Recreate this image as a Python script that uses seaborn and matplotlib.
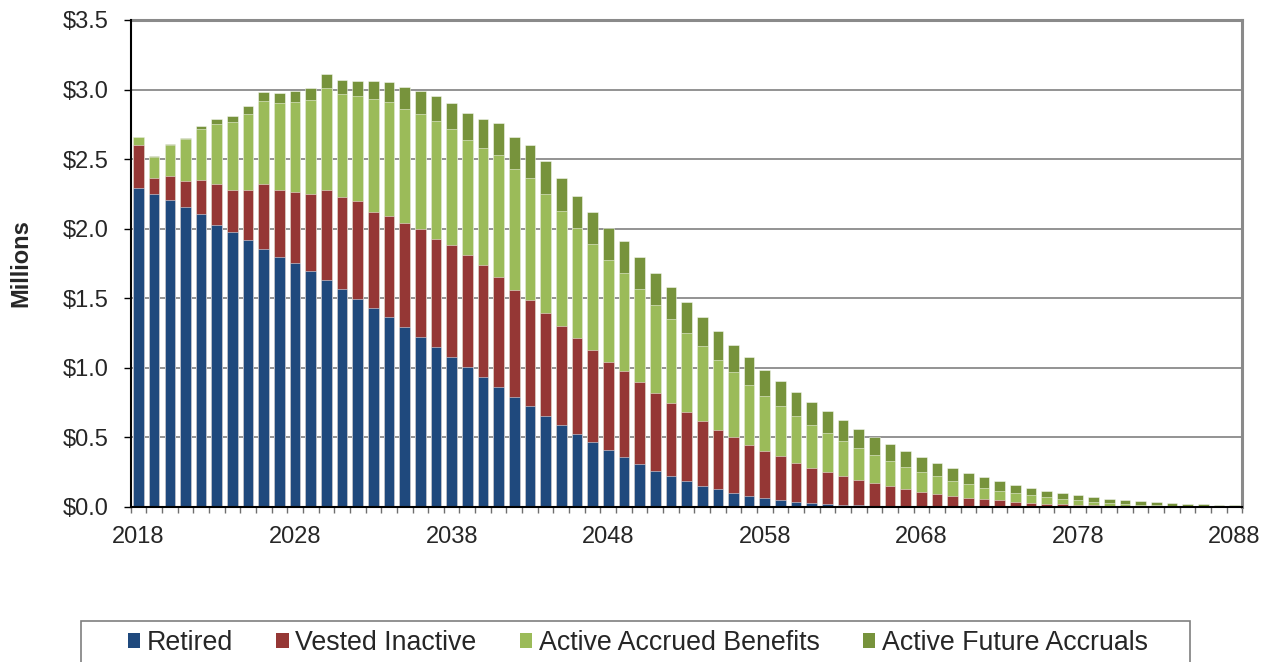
import numpy as np
import pandas as pd
import matplotlib
matplotlib.use("Agg")
import matplotlib.pyplot as plt
from matplotlib.patches import Patch, Rectangle
from matplotlib.ticker import FuncFormatter, FixedLocator
import seaborn as sns

# Projected benefit payments by member status, in $ millions
years = list(range(2018, 2089))

retired = [
    2.293, 2.247, 2.209, 2.158, 2.103, 2.029, 1.974, 1.916, 1.856, 1.796,
    1.751, 1.693, 1.633, 1.568, 1.496, 1.430, 1.362, 1.290, 1.223, 1.151,
    1.079, 1.007, 0.935, 0.863, 0.791, 0.722, 0.655, 0.590, 0.525, 0.465,
    0.410, 0.356, 0.305, 0.260, 0.219, 0.183, 0.151, 0.125, 0.099, 0.079,
    0.060, 0.046, 0.036, 0.024, 0.017, 0.012, 0.010, 0.007, 0.005, 0.003,
    0.002, 0.001, 0.001, 0.0, 0.0, 0.0, 0.0, 0.0, 0.0, 0.0,
    0.0, 0.0, 0.0, 0.0, 0.0, 0.0, 0.0, 0.0, 0.0, 0.0,
    0.0,
]

vested_inactive = [
    0.309, 0.120, 0.172, 0.187, 0.247, 0.292, 0.307, 0.365, 0.465, 0.485,
    0.513, 0.559, 0.648, 0.662, 0.701, 0.688, 0.732, 0.748, 0.775, 0.772,
    0.801, 0.804, 0.801, 0.789, 0.770, 0.767, 0.741, 0.712, 0.686, 0.660,
    0.630, 0.618, 0.589, 0.557, 0.526, 0.495, 0.462, 0.430, 0.399, 0.368,
    0.341, 0.315, 0.281, 0.257, 0.235, 0.211, 0.183, 0.162, 0.144, 0.125,
    0.106, 0.091, 0.076, 0.065, 0.055, 0.046, 0.036, 0.029, 0.022, 0.017,
    0.013, 0.010, 0.007, 0.005, 0.003, 0.002, 0.001, 0.001, 0.0, 0.0,
    0.0,
]

active_accrued = [
    0.055, 0.151, 0.223, 0.298, 0.367, 0.434, 0.486, 0.544, 0.597, 0.623,
    0.647, 0.674, 0.731, 0.736, 0.753, 0.815, 0.817, 0.823, 0.827, 0.854,
    0.839, 0.829, 0.844, 0.878, 0.868, 0.876, 0.853, 0.825, 0.794, 0.765,
    0.733, 0.704, 0.669, 0.637, 0.608, 0.572, 0.541, 0.500, 0.468, 0.430,
    0.397, 0.365, 0.337, 0.308, 0.279, 0.251, 0.229, 0.204, 0.181, 0.159,
    0.143, 0.127, 0.109, 0.096, 0.080, 0.070, 0.060, 0.055, 0.048, 0.038,
    0.032, 0.026, 0.019, 0.014, 0.011, 0.008, 0.006, 0.004, 0.004, 0.003,
    0.002,
]

active_future = [
    0.003, 0.005, 0.006, 0.009, 0.022, 0.032, 0.044, 0.053, 0.065, 0.074,
    0.075, 0.088, 0.103, 0.106, 0.112, 0.129, 0.142, 0.156, 0.165, 0.173,
    0.183, 0.190, 0.209, 0.230, 0.228, 0.237, 0.238, 0.235, 0.232, 0.230,
    0.231, 0.235, 0.230, 0.224, 0.224, 0.221, 0.209, 0.207, 0.200, 0.200,
    0.188, 0.178, 0.173, 0.166, 0.154, 0.146, 0.137, 0.128, 0.118, 0.113,
    0.103, 0.094, 0.091, 0.080, 0.077, 0.067, 0.061, 0.051, 0.046, 0.041,
    0.038, 0.034, 0.032, 0.029, 0.024, 0.021, 0.019, 0.014, 0.012, 0.008,
    0.007,
]

series_names = ["Retired", "Vested Inactive", "Active Accrued Benefits", "Active Future Accruals"]
series_colors = ["#1F497D", "#953735", "#9BBB59", "#77933C"]

sns.set_style("white")
plt.rcParams["font.family"] = ["Liberation Sans", "DejaVu Sans"]

df = pd.DataFrame({
    "year": [str(y) for y in years],
    "Retired": retired,
    "Vested Inactive": vested_inactive,
    "Active Accrued Benefits": active_accrued,
    "Active Future Accruals": active_future,
})
stack = df[series_names].cumsum(axis=1)

fig = plt.figure(figsize=(12.75, 6.62), dpi=100)
ax = fig.add_axes([0.1025, 0.2346, 0.9744 - 0.1025, 0.9698 - 0.2346])

# stacked bars: draw cumulative totals from the top layer down
for name, color in reversed(list(zip(series_names, series_colors))):
    sns.barplot(x=df["year"], y=stack[name], color=color, saturation=1,
                width=0.68, edgecolor=(1, 1, 1, 0.55), linewidth=0.6,
                ax=ax, zorder=3)

ax.set_xlim(-0.5, len(years) - 0.5)
ax.set_ylim(0, 3.5)

# y axis
ax.set_yticks(np.arange(0, 3.51, 0.5))
ax.yaxis.set_major_formatter(FuncFormatter(lambda v, p: f"${v:.1f}"))
ax.tick_params(axis="y", which="major", length=5, width=1, color="black",
               pad=11, labelsize=17, direction="out", left=True)
ax.grid(axis="y", color="#8a8a8a", linewidth=1.3, zorder=0)
ax.set_axisbelow(True)
ax.set_ylabel("Millions", fontsize=17, fontweight="bold")
ax.yaxis.set_label_coords(-0.0888, 0.5)

# x axis: labels every ten years, tick marks between categories
label_pos = list(range(0, len(years), 10))
ax.xaxis.set_major_locator(FixedLocator(label_pos))
ax.set_xticklabels([str(years[i]) for i in label_pos])
ax.xaxis.set_minor_locator(FixedLocator(np.arange(-0.5, len(years), 1.0)))
ax.tick_params(axis="x", which="major", length=0, pad=14, labelsize=17)
ax.tick_params(axis="x", which="minor", length=4.5, width=1, color="#6f6f6f",
               direction="out", bottom=True)
ax.set_xlabel("")

for side in ("left", "bottom"):
    ax.spines[side].set_color("black")
    ax.spines[side].set_linewidth(1.5)
    ax.spines[side].set_zorder(5)
for side in ("top", "right"):
    ax.spines[side].set_visible(True)
    ax.spines[side].set_color("#8a8a8a")
    ax.spines[side].set_linewidth(2.2)

# legend frame running off the bottom edge
fw, fh = 1275, 662
frame = Rectangle((81 / fw, 1 - 700 / fh), (1190 - 81) / fw, (700 - 621) / fh,
                  transform=fig.transFigure, facecolor="white",
                  edgecolor="#7f7f7f", linewidth=1.2, clip_on=False)
fig.add_artist(frame)

handles = [Patch(facecolor=c, edgecolor="none", label=n)
           for n, c in zip(series_names, series_colors)]
fig.legend(handles=handles, loc="center left",
           bbox_to_anchor=(128 / fw, 1 - 643 / fh), ncol=4, frameon=False,
           fontsize=19.3, handlelength=0.45, handleheight=0.5,
           handletextpad=0.25, columnspacing=1.62, borderaxespad=0,
           borderpad=0)

fig.savefig("out.png", dpi=100)
